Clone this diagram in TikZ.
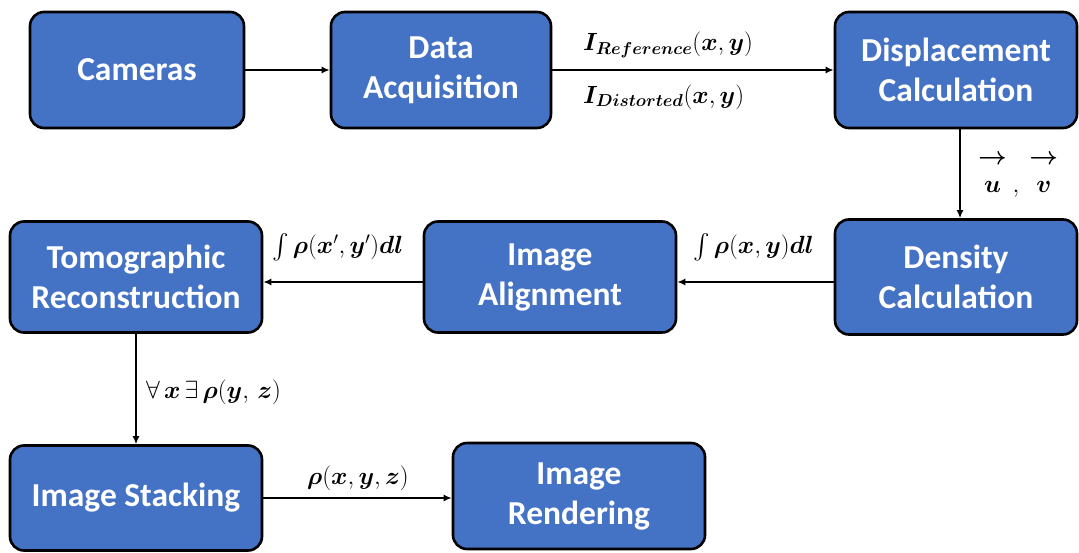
\documentclass[tikz,border=0pt]{standalone}
\usepackage{amsmath,bm}
\usepackage{fontspec}
\setmainfont{Carlito}
\usetikzlibrary{arrows.meta}
\definecolor{boxblue}{HTML}{4472C4}
\begin{document}
\begin{tikzpicture}[x=1pt,y=-1pt,
  box/.style={draw=black, line width=2.6pt, fill=boxblue, rounded corners=14pt,
    text=white, font=\fontsize{33.5}{40}\selectfont\bfseries, align=center, inner sep=0pt},
  arr/.style={-{Latex[length=8pt,width=7pt]}, line width=1.6pt},
  lab/.style={font=\fontsize{26}{30}\selectfont, inner sep=0pt}]
\useasboundingbox (0,0) rectangle (1079,553);

\node[box, minimum width=214pt, minimum height=116pt] (cam) at (137,70) {Cameras};
\node[box, minimum width=220pt, minimum height=116pt] (daq) at (441,70) {Data\\Acquisition};
\node[box, minimum width=242pt, minimum height=116pt] (disp) at (956,70) {Displacement\\Calculation};
\node[box, minimum width=242pt, minimum height=115pt] (dens) at (956,277) {Density\\Calculation};
\node[box, minimum width=252pt, minimum height=111pt] (align) at (550,277) {Image\\Alignment};
\node[box, minimum width=252pt, minimum height=111pt] (tomo) at (136,277) {Tomographic\\Reconstruction};
\node[box, minimum width=252pt, minimum height=105pt] (stack) at (136,498) {Image Stacking};
\node[box, minimum width=252pt, minimum height=106pt] (rend) at (579,496) {Image\\Rendering};

\draw[arr] (cam) -- (daq);
\draw[arr] (daq) -- (disp);
\draw[arr] ([xshift=4pt]disp.south) -- ([xshift=4pt]dens.north);
\draw[arr] ([yshift=-5pt]dens.west) -- ([yshift=-5pt]align.east);
\draw[arr] ([yshift=-5pt]align.west) -- ([yshift=-5pt]tomo.east);
\draw[arr] (tomo) -- (stack);
\draw[arr] (stack) -- (stack -| rend.west);

\node[lab, anchor=west] (lref) at (583,45) {$\bm{I_{Reference}}(\bm{x},\bm{y})$};
\node[lab, anchor=west] (ldis) at (583,97) {$\bm{I_{Distorted}}(\bm{x},\bm{y})$};
\node[lab, anchor=west] (luv) at (978,175) {$\overset{\textstyle\bm\rightarrow}{\rule{0pt}{0.9em}\bm u}\ ,\ \overset{\textstyle\bm\rightarrow}{\rule{0pt}{0.9em}\bm v}$};
\node[lab, anchor=west] (lxy) at (693,247) {$\int \bm\rho(\bm x,\bm y)\bm{dl}$};
\node[lab, anchor=west] (lxpyp) at (272,247) {$\int \bm\rho(\bm x',\bm y')\bm{dl}$};
\node[lab, anchor=west] (lfa) at (146,392) {$\forall\,\bm x\,\exists\,\bm\rho(\bm y,\,\bm z)$};
\node[lab, anchor=west] (lxyz) at (307,478) {$\bm\rho(\bm x,\bm y,\bm z)$};
\end{tikzpicture}
\end{document}
